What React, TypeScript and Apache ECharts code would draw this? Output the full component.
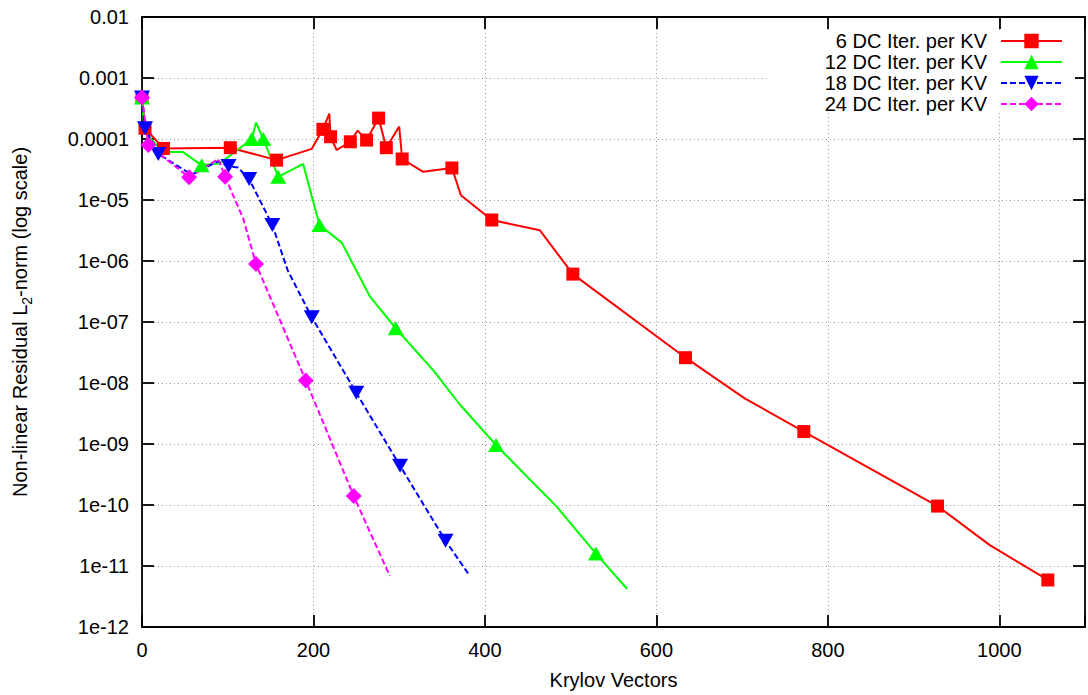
import React, { useEffect, useRef } from "react";
import * as echarts from "echarts";

const seriesNames = [
  "6 DC Iter. per KV",
  "12 DC Iter. per KV",
  "18 DC Iter. per KV",
  "24 DC Iter. per KV",
];

const yTickLabels = [
  "1e-12", "1e-11", "1e-10", "1e-09", "1e-08", "1e-07",
  "1e-06", "1e-05", "0.0001", "0.001", "0.01",
];
const xTickLabels = ["0", "200", "400", "600", "800", "1000"];

// 6 DC Iter. per KV
const dc6X = [0, 3.5, 25, 103, 157, 198, 211, 218.5, 220, 227, 243, 251.5, 262, 276, 285, 300, 303.5, 328, 361.5, 372, 408, 464, 502.6, 634, 703, 772, 928, 989, 1056.6];
const dc6Y = [4.8e-4, 1.5e-4, 7.0e-5, 7.2e-5, 4.5e-5, 6.9e-5, 1.44e-4, 2.6e-4, 1.09e-4, 6.6e-5, 9.0e-5, 1.37e-4, 9.6e-5, 2.2e-4, 7.2e-5, 1.6e-4, 4.7e-5, 2.9e-5, 3.35e-5, 1.2e-5, 4.7e-6, 3.2e-6, 6.1e-7, 2.6e-8, 5.6e-9, 1.6e-9, 9.6e-11, 2.2e-11, 5.9e-12];
const dc6M = [1, 1, 1, 1, 1, 0, 1, 0, 1, 0, 1, 0, 1, 1, 1, 0, 1, 0, 1, 0, 1, 0, 1, 1, 0, 1, 1, 0, 1];

// 12 DC Iter. per KV
const dc12X = [0, 3, 24.5, 48, 69.6, 91, 128, 133, 141.5, 159, 188, 207, 233, 266, 296, 340, 371, 413, 484, 529.5, 566];
const dc12Y = [4.8e-4, 1.3e-4, 6.1e-5, 6.1e-5, 3.7e-5, 4.0e-5, 1.0e-4, 1.85e-4, 1.0e-4, 2.4e-5, 3.9e-5, 3.9e-6, 2.0e-6, 2.6e-7, 7.9e-8, 1.6e-8, 4.4e-9, 9.6e-10, 9.3e-11, 1.6e-11, 4.2e-12];
const dc12M = [1, 0, 0, 0, 1, 0, 1, 0, 1, 1, 0, 1, 0, 0, 1, 0, 0, 1, 0, 1, 0];

// 18 DC Iter. per KV
const dc18X = [0, 3.5, 19, 58, 88, 101, 112, 125, 152, 170, 198, 250, 301, 354, 382];
const dc18Y = [4.8e-4, 1.5e-4, 5.7e-5, 2.6e-5, 4.3e-5, 3.6e-5, 3.4e-5, 2.2e-5, 3.9e-6, 7e-7, 1.2e-7, 6.9e-9, 4.4e-10, 2.6e-11, 7e-12];
const dc18M = [1, 1, 1, 0, 0, 1, 0, 1, 1, 0, 1, 1, 1, 1, 0];

// 24 DC Iter. per KV
const dc24X = [0, 7.4, 55, 89, 97, 118, 133, 191, 247, 289];
const dc24Y = [4.8e-4, 8e-5, 2.35e-5, 4.7e-5, 2.4e-5, 5e-6, 8.9e-7, 1.1e-8, 1.4e-10, 6.9e-12];
const dc24M = [1, 1, 1, 0, 1, 0, 1, 1, 1, 0];

const FONT = "'Liberation Sans', Arial, Helvetica, sans-serif";

function build(xs: number[], ys: number[], ms: number[]) {
  return xs.map((x, i) =>
    ms[i] ? { value: [x, ys[i]] } : { value: [x, ys[i]], symbol: "none" }
  );
}

export default function App() {
  const ref = useRef<HTMLDivElement>(null);
  useEffect(() => {
    if (!ref.current) return;
    const chart = echarts.init(ref.current, null, { renderer: "svg" });
    const axisLineStyle = { color: "#000", width: 1.8 };
    const gridLine = { color: "#9a9a9a", width: 1, type: [1, 3] as any };
    const lbl = { fontSize: 20, color: "#000", fontFamily: FONT };
    const yFmt = (v: number) => {
      const e = Math.round(Math.log10(v));
      return yTickLabels[e + 12] ?? "";
    };
    const xFmt = (v: number) => {
      const i = xTickLabels.indexOf(String(Math.round(v)));
      return i >= 0 ? xTickLabels[i] : "";
    };
    const mk = (name: string, color: string, data: any[], symbol: string, size: any, dashed: boolean) => ({
      name,
      type: "line",
      data,
      symbol,
      symbolSize: size,
      showSymbol: true,
      lineStyle: { color, width: 2, type: dashed ? [6, 3] : "solid" },
      itemStyle: { color },
      emphasis: { disabled: true },
    });
    chart.setOption({
      animation: false,
      backgroundColor: "#fff",
      grid: { left: 142, right: 1, top: 17, bottom: 68, containLabel: false },
      legend: {
        orient: "vertical",
        align: "right",
        right: 25,
        top: 31,
        padding: 0,
        itemGap: 1,
        itemWidth: 61,
        itemHeight: 18,
        selectedMode: false,
        textStyle: { ...lbl, lineHeight: 18, padding: [0, 9, 0, 0] },
        data: seriesNames,
      },
      graphic: [
        {
          type: "rect",
          z: 1,
          shape: { x: 770, y: 30, width: 305, height: 81 },
          style: { fill: "#fff" },
          silent: true,
        },
      ],
      xAxis: [
        {
          type: "value",
          position: "bottom",
          min: 0,
          max: 1100,
          interval: 200,
          axisLine: { show: true, onZero: false, lineStyle: axisLineStyle },
          axisTick: { show: true, inside: true, length: 12, lineStyle: axisLineStyle },
          axisLabel: { ...lbl, margin: 13, formatter: xFmt },
          splitLine: { show: true, lineStyle: gridLine },
          name: "Krylov Vectors",
          nameLocation: "middle",
          nameGap: 43,
          nameTextStyle: { ...lbl },
        },
        {
          type: "value",
          position: "top",
          min: 0,
          max: 1100,
          interval: 200,
          axisLine: { show: true, onZero: false, lineStyle: axisLineStyle },
          axisTick: { show: true, inside: true, length: 12, lineStyle: axisLineStyle },
          axisLabel: { show: false },
          splitLine: { show: false },
        },
      ],
      yAxis: [
        {
          type: "log",
          logBase: 10,
          position: "left",
          min: 1e-12,
          max: 0.01,
          interval: 1,
          axisLine: { show: true, onZero: false, lineStyle: axisLineStyle },
          axisTick: { show: true, inside: true, length: 12, lineStyle: axisLineStyle },
          axisLabel: { ...lbl, margin: 13, formatter: yFmt },
          splitLine: { show: true, lineStyle: gridLine },
          minorTick: { show: false },
          name: "{t|Non-linear Residual L}{s|2}{t|-norm (log scale)}",
          nameLocation: "middle",
          nameGap: 108,
          nameTextStyle: {
            rich: {
              t: { fontSize: 20, fontFamily: FONT, color: "#000", lineHeight: 28, verticalAlign: "middle" },
              s: { fontSize: 14, fontFamily: FONT, color: "#000", lineHeight: 14, verticalAlign: "bottom" },
            },
          },
        },
        {
          type: "log",
          logBase: 10,
          position: "right",
          min: 1e-12,
          max: 0.01,
          interval: 1,
          axisLine: { show: true, onZero: false, lineStyle: axisLineStyle },
          axisTick: { show: true, inside: true, length: 12, lineStyle: axisLineStyle },
          axisLabel: { show: false },
          splitLine: { show: false },
        },
      ],
      series: [
        mk(seriesNames[0], "#ff0000", build(dc6X, dc6Y, dc6M), "rect", 13, false),
        mk(seriesNames[1], "#00ff00", build(dc12X, dc12Y, dc12M), "triangle", [16, 14], false),
        mk(seriesNames[2], "#0000ff", build(dc18X, dc18Y, dc18M), "path://M0,0L20,0L10,17Z", [16, 14], true),
        mk(seriesNames[3], "#ff00ff", build(dc24X, dc24Y, dc24M), "diamond", 16, true),
      ],
    });
    return () => chart.dispose();
  }, []);
  return (
    <div
      ref={ref}
      style={{ position: "fixed", left: 0, top: 0, width: 1088, height: 695 }}
    />
  );
}
